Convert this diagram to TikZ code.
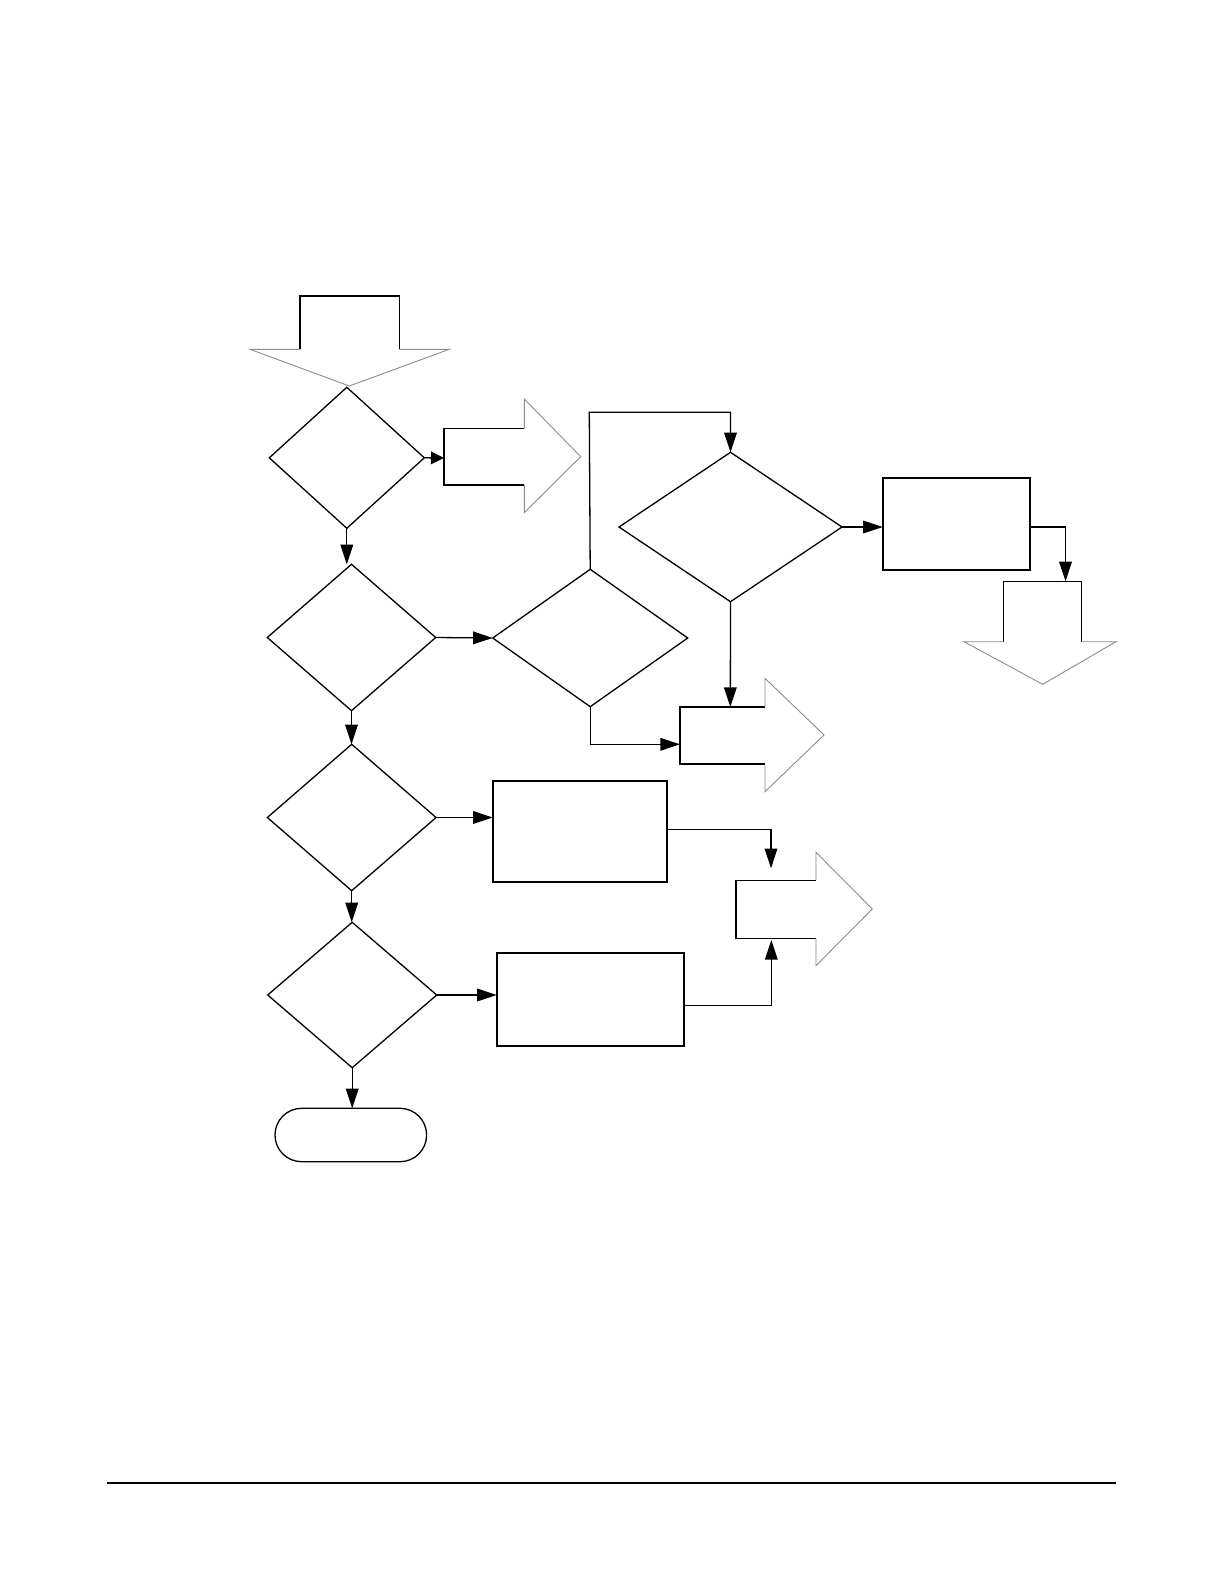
\documentclass[tikz,border=0pt]{standalone}
\usetikzlibrary{shapes.geometric,arrows.meta,calc}
\tikzset{
  dia/.style={shape=diamond,draw,line width=0.65pt,inner sep=0pt,outer sep=0pt},
  boxr/.style={shape=rectangle,draw,line width=1pt,inner sep=0pt,outer sep=0pt},
  termbox/.style={shape=rectangle,draw,line width=0.65pt,rounded corners=13.3pt,inner sep=0pt,outer sep=0pt,minimum width=75.8pt,minimum height=26.7pt},
  conn/.style={line width=0.65pt,-{Triangle[length=9.8pt,width=6.3pt]}},
  shaftl/.style={line width=0.7pt,black},
  headl/.style={line width=0.45pt,black!45}
}
\begin{document}
\begin{tikzpicture}[x=0.5pt,y=-0.5pt]
\useasboundingbox (0,0) rectangle (1224,1584);
% block arrows (shapes)
% top entry arrow
\draw[shaftl] (300,349.3) -- (300,296) -- (399.3,296) -- (399.3,349.3);
\draw[headl] (399.3,349.3) -- (449.3,349.3) -- (349.3,386) -- (250,349.3) -- (300,349.3);
% ba2
\draw[shaftl] (524.3,428.3) -- (444,428.3) -- (444,485) -- (524.3,485);
\draw[headl] (524.3,485) -- (524.3,512.7) -- (580.7,456.7) -- (524.3,399) -- (524.3,428.3);
% ba5 down
\draw[shaftl] (1003.3,641.7) -- (1003.3,581.3) -- (1081.7,581.3) -- (1081.7,641.7);
\draw[headl] (1081.7,641.7) -- (1116,641.7) -- (1042.7,684.3) -- (964,641.7) -- (1003.3,641.7);
% ba3
\draw[shaftl] (765,707) -- (680,707) -- (680,764) -- (765,764);
\draw[headl] (765,764) -- (765,791.7) -- (824,735) -- (765,678.3) -- (765,707);
% ba4
\draw[shaftl] (816,880.3) -- (736,880.3) -- (736,938.3) -- (816,938.3);
\draw[headl] (816,938.3) -- (816,965.7) -- (872.3,909) -- (816,852.3) -- (816,880.3);
% connection points on block arrows
\coordinate (ba2w) at (444,458);
\coordinate (ba5n) at (1065.5,581.3);
\coordinate (ba3n) at (730.3,707);
\coordinate (ba3w) at (680,744.3);
\coordinate (ba4n) at (771,868.3);
\coordinate (ba4s) at (771.3,940);
\coordinate (loop) at (589.3,412.3);
% nodes
\node[dia,minimum width=77.5pt,minimum height=70.5pt] (d1) at (346.8,457.8) {};
\node[dia,minimum width=84.2pt,minimum height=73.2pt] (d2) at (351.5,637.5) {};
\node[dia,minimum width=84.35pt,minimum height=73.2pt] (d3) at (351.7,817.5) {};
\node[dia,minimum width=84.5pt,minimum height=72.7pt] (d4) at (352.2,995) {};
\node[termbox] (term) at (350.8,1135) {};
\node[dia,minimum width=97.5pt,minimum height=68.7pt] (d5) at (590.2,638) {};
\node[dia,minimum width=111.5pt,minimum height=74.7pt] (d6) at (730.5,527) {};
\node[boxr,minimum width=73.6pt,minimum height=46.3pt] (r1) at (956.4,524) {};
\node[boxr,minimum width=87.3pt,minimum height=50.35pt] (r2) at (580,831.7) {};
\node[boxr,minimum width=93.8pt,minimum height=46.35pt] (r3) at (590.5,999.7) {};
% connectors
\draw[conn] (d1.south) -- (d1.south |- d2.north);
\draw[conn] (d2.south) -- (d2.south |- d3.north);
\draw[conn] (d3.south) -- (d3.south |- d4.north);
\draw[conn] (d4.south) -- (d4.south |- term.north);
\draw[line width=0.65pt,-{Triangle[length=6.5pt,width=6.3pt]}] (d1.east) -- (ba2w);
\draw[conn] (d2.east) -- (d5.west);
\draw[conn] (d5.north) -- (loop) -| (d6.north);
\draw[conn] (d6.east) -- (r1.west |- d6.east);
\draw[conn] ($(r1.east)+(0,3)$) -| (ba5n);
\draw[conn] (d6.south) -- (ba3n);
\draw[conn] (d5.south) |- (ba3w);
\draw[conn] (d3.east) -- (d3.east -| r2.west);
\draw[conn] ($(r2.east)+(0,-2.4)$) -| (ba4n);
\draw[conn] (d4.east) -- (d4.east -| r3.west);
\draw[conn] ($(r3.east)+(0,5.6)$) -| (ba4s);
% footer rule
\draw[line width=1.2pt] (107,1483) -- (1116,1483);
\end{tikzpicture}
\end{document}
